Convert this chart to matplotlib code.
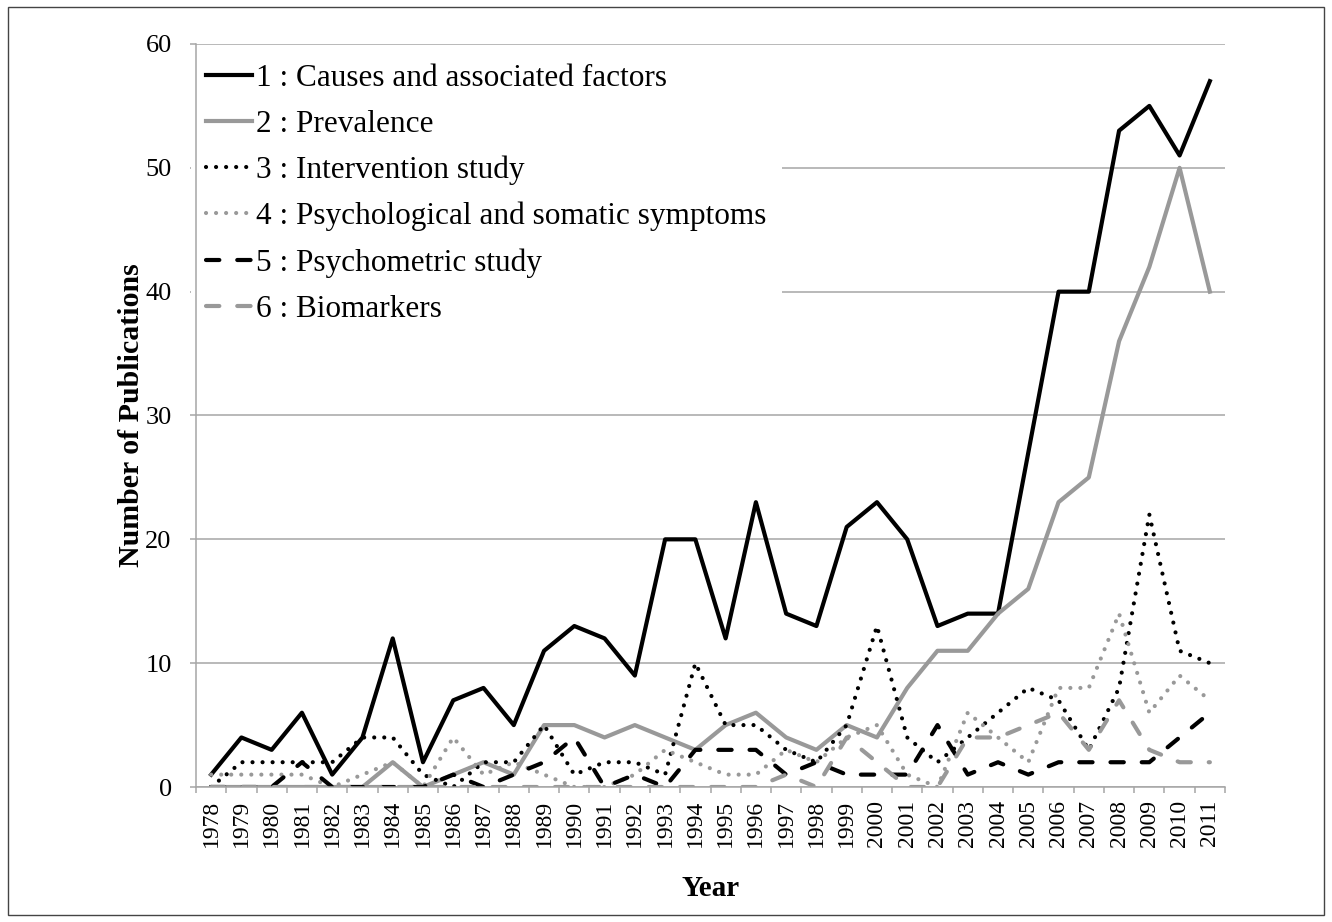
import numpy as np
import matplotlib
matplotlib.use('Agg')
import matplotlib.pyplot as plt
from matplotlib.patches import Rectangle

plt.rcParams['font.family'] = ['Liberation Serif', 'DejaVu Serif']

# data
years = list(range(1978, 2012))
causes = [1, 4, 3, 6, 1, 4, 12, 2, 7, 8, 5, 11, 13, 12, 9, 20, 20, 12, 23, 14, 13, 21, 23, 20,
          13, 14, 14, 27, 40, 40, 53, 55, 51, 57]
prevalence = [0, 0, 0, 0, 0, 0, 2, 0, 1, 2, 1, 5, 5, 4, 5, 4, 3, 5, 6, 4, 3, 5, 4, 8,
              11, 11, 14, 16, 23, 25, 36, 42, 50, 40]
intervention = [0, 2, 2, 2, 2, 4, 4, 1, 0, 2, 2, 5, 1, 2, 2, 1, 10, 5, 5, 3, 2, 5, 13, 4,
                2, 4, 6, 8, 7, 3, 8, 22, 11, 10]
symptoms = [1, 1, 1, 1, 0, 1, 2, 0, 4, 1, 2, 1, 0, 0, 1, 3, 2, 1, 1, 3, 2, 4, 5, 1,
            0, 6, 4, 2, 8, 8, 14, 6, 9, 7]
psychometric = [0, 0, 0, 2, 0, 0, 0, 0, 1, 0, 1, 2, 4, 0, 1, 0, 3, 3, 3, 1, 2, 1, 1, 1,
                5, 1, 2, 1, 2, 2, 2, 2, 4, 6]
biomarkers = [0, 0, 0, 0, 0, 0, 0, 0, 0, 0, 0, 0, 0, 0, 0, 0, 0, 0, 0, 1, 0, 4, 2, 0,
              0, 4, 4, 5, 6, 3, 7, 3, 2, 2]

labels = ['1 : Causes and associated factors',
          '2 : Prevalence',
          '3 : Intervention study',
          '4 : Psychological and somatic symptoms',
          '5 : Psychometric study',
          '6 : Biomarkers']

black = '#000000'
gray = '#999999'
axis_gray = '#a6a6a6'
lw = 3.0

fig = plt.figure(figsize=(13.32, 9.22), dpi=100)
ax = fig.add_axes([196 / 1332, 1 - 787 / 922, 1029 / 1332, 743 / 922])

x = np.arange(len(years))
dot = dict(dashes=(0.01, 2.4), dash_capstyle='round')
dash = dict(dashes=(3.2, 4.3), dash_capstyle='round')

ax.plot(x, causes, color=black, lw=lw, solid_joinstyle='round', label=labels[0])
ax.plot(x, prevalence, color=gray, lw=lw, solid_joinstyle='round', label=labels[1])
ax.plot(x, intervention, color=black, lw=lw, label=labels[2], **dot)
ax.plot(x, symptoms, color=gray, lw=lw, label=labels[3], **dot)
ax.plot(x, psychometric, color=black, lw=lw, label=labels[4], **dash)
ax.plot(x, biomarkers, color=gray, lw=lw, label=labels[5], **dash)

ax.set_xlim(-0.5, len(years) - 0.5)
ax.set_ylim(0, 60)
ax.set_yticks(range(0, 61, 10))
ax.set_xticks(x)
ax.set_xticklabels([str(y) for y in years], rotation=90, fontsize=17)
ax.set_xticks(np.arange(-0.5, len(years), 1), minor=True)
ax.tick_params(axis='x', which='major', length=0, pad=9)
ax.tick_params(axis='x', which='minor', length=4.5, width=1.1, color=axis_gray)
ax.tick_params(axis='y', length=4.5, width=1.1, color=axis_gray, labelsize=19, pad=13)

ax.yaxis.grid(True, color=axis_gray, lw=1.1)
ax.set_axisbelow(True)
for s in ['top', 'right']:
    ax.spines[s].set_visible(False)
for s in ['left', 'bottom']:
    ax.spines[s].set_color(axis_gray)
    ax.spines[s].set_linewidth(1.1)

ax.set_ylabel('Number of Publications', fontsize=21.5, fontweight='bold', va='center')
ax.yaxis.set_label_coords(-0.063, 0.5)
ax.set_xlabel('Year', fontsize=21, fontweight='bold', va='center')
ax.xaxis.set_label_coords(0.5, -0.136)

leg = ax.legend(loc='upper left', bbox_to_anchor=(-0.005, 0.9946), fontsize=22.5,
                handlelength=1.45, handletextpad=0.13, labelspacing=0.54,
                borderpad=0.5, borderaxespad=0, frameon=True, fancybox=False)
leg.get_frame().set_facecolor('white')
leg.get_frame().set_edgecolor('none')
leg.get_frame().set_alpha(1)
leg.set_zorder(2.3)  # keep the left spine drawn over the legend box

# thin frame around the whole picture
fig.add_artist(Rectangle((8 / 1332, 7 / 922), 1316 / 1332, 908 / 922,
                         transform=fig.transFigure, fill=False,
                         edgecolor='#444444', lw=1))

fig.savefig('out.png', dpi=100)
